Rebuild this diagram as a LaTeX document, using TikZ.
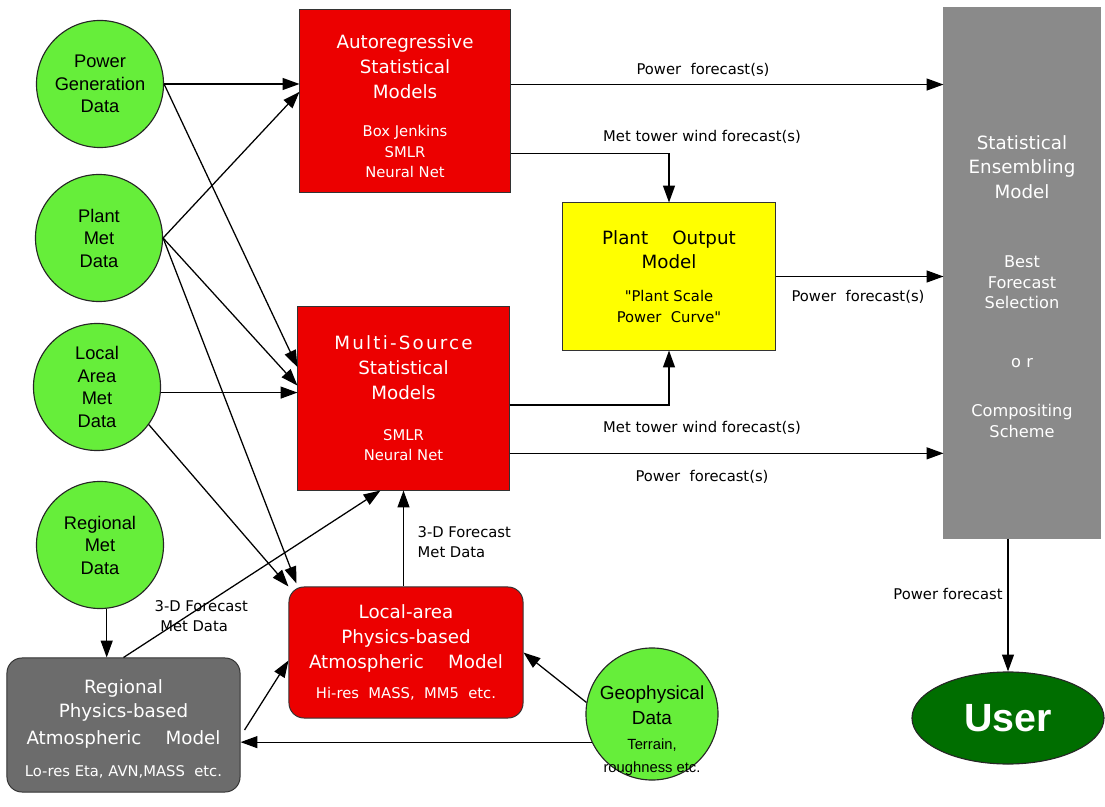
\documentclass[tikz,border=0pt]{standalone}
\usepackage{fontspec}
\setmainfont{Liberation Sans}
\newfontfamily\boxfont{DejaVu Sans}
\newfontfamily\spacedfont[LetterSpace=12]{DejaVu Sans}
\usepackage{xcolor}
\usepackage{tikz}
\usetikzlibrary{shapes.geometric, arrows.meta, positioning, calc}

\definecolor{datagreen}{RGB}{102,238,58}
\definecolor{modelred}{RGB}{236,0,0}
\definecolor{plantyellow}{RGB}{255,255,0}
\definecolor{ensgray}{RGB}{138,138,138}
\definecolor{reggray}{RGB}{108,108,108}
\definecolor{usergreen}{RGB}{0,110,0}

\newcommand{\titlesize}{\fontsize{13}{17.5}\selectfont}
\newcommand{\subsize}{\fontsize{10.5}{14.5}\selectfont}
\newcommand{\enssize}{\fontsize{11.5}{14.5}\selectfont}
\newcommand{\geosize}{\fontsize{10.5}{13.5}\selectfont}

\begin{document}
\begin{tikzpicture}[
    x=0.025cm, y=-0.025cm,
    datacircle/.style={circle, draw=black!85, line width=0.8pt, fill=datagreen, minimum size=3.175cm, inner sep=0pt, align=center, font=\fontsize{13}{16}\selectfont},
    box/.style={draw=black!80, line width=0.7pt, align=center, inner sep=2pt, font=\boxfont\titlesize},
    redbox/.style={box, fill=modelred, text=white},
    graybox/.style={box, fill=reggray, text=white, rounded corners=0.375cm},
    arr/.style={-{Triangle[length=12pt, width=8.5pt]}, line width=0.9pt},
    lbl/.style={font=\boxfont\fontsize{10.5}{14}\selectfont, align=left, inner sep=1pt},
]
\useasboundingbox (0,0) rectangle (1105,807);

% Data sources -- green circles down the left side
\node[datacircle] (pgen) at (100,84) {Power\\Generation\\Data};
\node[datacircle] (pmet) at (99,238) {Plant\\Met\\Data};
\node[datacircle] (lmet) at (97,387) {Local\\Area\\Met\\Data};
\node[datacircle] (rmet) at (100,545) {Regional\\Met\\Data};
% text sits low in this circle
\node[datacircle, minimum size=3.3cm, font=\fontsize{13.5}{16.5}\selectfont] (geo) at (652,714) {\raisebox{-16pt}[0pt][0pt]{\begin{tabular}{@{}c@{}}Geophysical\\[1.3pt]Data\\[1.3pt]\geosize Terrain,\\\geosize roughness etc.\end{tabular}}};

% Statistical models
\node[redbox, minimum width=5.25cm, minimum height=4.55cm] (auto) at (405,101) {\rule{0pt}{17pt}Autoregressive\\[0.5pt]Statistical\\Models\\[10pt]\subsize Box Jenkins\\[-3pt]\subsize SMLR\\[-3pt]\subsize Neural Net};
\node[redbox, minimum width=5.275cm, minimum height=4.575cm] (multi) at (403.5,398.5) {\spacedfont Multi-Source\\Statistical\\Models\\[12pt]\subsize SMLR\\[-3.2pt]\subsize Neural Net};
\node[box, fill=plantyellow, minimum width=5.3cm, minimum height=3.675cm] (plant) at (669,276.5) {Plant\quad\ Output\\Model\\[6pt]\subsize "Plant Scale\\[-3pt]\subsize Power\ \ Curve"};

% Physics-based models
\node[redbox, rounded corners=0.375cm, minimum width=5.85cm, minimum height=3.275cm] (local) at (406,652.5) {Local-area\\Physics-based\\Atmospheric\quad\ Model\\[4pt]\subsize Hi-res\ \ MASS,\ \ MM5\ \ etc.};
\node[graybox, minimum width=5.825cm, minimum height=3.35cm] (regional) at (123.5,725) {\rule{0pt}{15pt}Regional\\Physics-based\\[1.5pt]Atmospheric\quad\ Model\\[5pt]\subsize Lo-res Eta, AVN,MASS\ \ etc.};

% Ensembling and user
\node[box, fill=ensgray, draw=ensgray, text=white, minimum width=3.9cm, minimum height=13.25cm] (ens) at (1022,273) {\rule{0pt}{29pt}Statistical\\Ensembling\\Model\\[32pt]\enssize Best\\[-3.2pt]\enssize Forecast\\[-3.2pt]\enssize Selection\\[25pt]\enssize o\,\,r\\[17pt]\enssize Compositing\\[-2.5pt]\enssize Scheme};
\node[ellipse, draw=black!85, line width=0.8pt, fill=usergreen, text=white, minimum width=4.8cm, minimum height=2.3cm, font=\fontsize{28}{30}\selectfont\bfseries] (user) at (1008,718) {User};

% Attach points on the model boxes
\coordinate (autoPF) at ($(auto.north east)!0.41!(auto.south east)$);
\coordinate (autoMT) at ($(auto.north east)!0.786!(auto.south east)$);
\coordinate (multiMT) at ($(multi.north east)!0.535!(multi.south east)$);
\coordinate (multiPF) at ($(multi.north east)!0.798!(multi.south east)$);

% Arrows -- data into the statistical models
\draw[arr] (pgen.east) -- (pgen.east -| auto.west);
\draw[arr] (pmet.east) -- ($(auto.north west)!0.45!(auto.south west)$);
\draw[arr] (pgen.east) -- ($(multi.north west)!0.33!(multi.south west)$);
\draw[arr] (pmet.east) -- ($(multi.north west)!0.43!(multi.south west)$);
\draw[arr] (lmet.-5) -- (lmet.-5 -| multi.west);

% Arrows -- data into the physics models
\draw[arr] (pmet.east) -- ($(local.north west)+(8,-3)$);
\draw[arr] (lmet.-36) -- (local.north west);
\draw[arr] (rmet.-84) -- (rmet.-84 |- regional.north);
\draw[arr] (geo.205) -- (geo.205 -| regional.east);
\draw[arr] (geo.170) -- (local.east);
\draw[arr] ($(regional.east)+(4,5)$) -- ($(local.west)+(0,8)$);

% Arrows -- 3-D forecast met data up to the multi-source models
\draw[arr] (regional.north) -- ($(multi.south)+(-23,0)$);
\node[lbl, anchor=west] (lbl3dreg) at (153,616) {3-D Forecast\\\hspace{4pt}Met Data};
\draw[arr] (local.north -| multi.south) -- (multi.south);
\node[lbl, anchor=west] (lbl3dloc) at (416,542) {3-D Forecast\\Met Data};

% Arrows -- forecasts to plant output and ensembling
\draw[arr] (autoPF) -- (autoPF -| ens.west);
\node[lbl] (lblpf1) at (703,70) {Power\ \ forecast(s)};
\draw[arr] (autoMT) -| (plant.north);
\node[lbl] (lblmt1) at (702,137) {Met tower wind forecast(s)};
\draw[arr] (multiMT) -| (plant.south);
\node[lbl] (lblmt2) at (702,428) {Met tower wind forecast(s)};
\draw[arr] (multiPF) -- (multiPF -| ens.west);
\node[lbl] (lblpf3) at (702,477) {Power\ \ forecast(s)};
\draw[arr] (plant.east) -- (plant.east -| ens.west);
\node[lbl] (lblpf2) at (858,297) {Power\ \ forecast(s)};
\draw[arr] (ens.south -| user.north) -- (user.north);
\node[lbl] (lblpf4) at (948,594) {Power forecast};

\end{tikzpicture}
\end{document}
